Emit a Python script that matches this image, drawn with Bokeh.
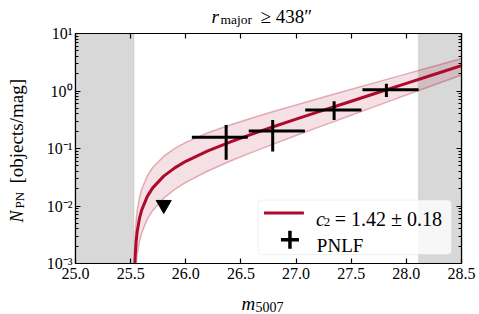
import numpy as np
from bokeh.plotting import figure
from bokeh.models import (Range1d, LinearAxis, LogAxis, BoxAnnotation, Label,
                          CustomJSTickFormatter, FixedTicker, ColumnDataSource)
from bokeh.core.properties import value
from bokeh.embed import file_html
from bokeh.resources import INLINE

# ---------------- data ----------------
model_m = [25.535, 25.54, 25.55, 25.56, 25.58, 25.60, 25.65, 25.70, 25.80, 25.90, 26.00,
           26.20, 26.40, 26.60, 26.80, 27.00, 27.25, 27.50, 27.75, 28.00, 28.25, 28.50]
model_n = [0.00061, 0.00122, 0.00243, 0.00365, 0.00608, 0.0085, 0.01456, 0.02066, 0.0331,
           0.0461, 0.0599, 0.0911, 0.1295, 0.1783, 0.2413, 0.3238, 0.4648, 0.6647, 0.9496,
           1.3557, 1.9336, 2.7577]
band_hi = [0.00142, 0.00285, 0.00566, 0.00849, 0.01408, 0.01962, 0.03328, 0.04677, 0.07355,
           0.1005, 0.1281, 0.1876, 0.2567, 0.3402, 0.4433, 0.5728, 0.7841, 1.0688, 1.4567,
           1.9834, 2.6974, 3.6677]
band_lo = [0.00024, 0.00048, 0.000957, 0.00144, 0.00241, 0.00338, 0.00585, 0.00837, 0.01367,
           0.01941, 0.0257, 0.0406, 0.05996, 0.08575, 0.1205, 0.168, 0.2529, 0.3793, 0.5682,
           0.8506, 1.2723, 1.9028]

pnlf_m = [26.366, 26.788, 27.345, 27.819]
pnlf_n = [0.157, 0.202, 0.465, 1.053]
bin_lo = [26.055, 26.571, 27.083, 27.602]
bin_hi = [26.562, 27.080, 27.593, 28.111]
err_lo = [0.064, 0.089, 0.312, 0.788]
err_hi = [0.256, 0.312, 0.664, 1.336]

limit_m = [25.80]
limit_n = [0.0105]

complete_lo = 25.53
complete_hi = 28.11

x_ticks = [25.0, 25.5, 26.0, 26.5, 27.0, 27.5, 28.0, 28.5]
x_tick_labels = ["25.0", "25.5", "26.0", "26.5", "27.0", "27.5", "28.0", "28.5"]
y_ticks = [1e-3, 1e-2, 1e-1, 1e0, 1e1]
y_tick_labels = ["10\u207b\u00b3", "10\u207b\u00b2", "10\u207b\u00b9", "10\u2070", "10\u00b9"]
y_minor = [k * 10.0 ** e for e in range(-3, 1) for k in range(2, 10)]

legend_fit = ["c", "2", "= 1.42 \u00b1 0.18"]
legend_data = "PNLF"

# ---------------- style ----------------
RED = "#ad0a2c"
SERIF = "Liberation Serif"
W, H = 479, 314
FL, FR, FT, FB = 74, 461, 31, 263   # frame in canvas px
X0, X1, Y0, Y1 = 25.0, 28.5, 1e-3, 1e1

def tx(cx):
    return X0 + (cx - FL) / (FR - FL) * (X1 - X0)

def ty(cy):
    l0, l1 = np.log10(Y0), np.log10(Y1)
    return 10 ** (l1 - (cy - FT) / (FB - FT) * (l1 - l0))

p = figure(width=W, height=H, output_backend="svg", toolbar_location=None,
           x_range=Range1d(X0, X1), y_range=Range1d(Y0, Y1), y_axis_type="log",
           min_border_left=FL, min_border_right=W - FR, min_border_top=FT,
           min_border_bottom=H - FB, background_fill_color="white",
           border_fill_color="white")
p.xgrid.grid_line_color = None
p.ygrid.grid_line_color = None
p.outline_line_color = "black"
p.outline_line_width = 1.2

# shaded incompleteness regions
for l, r in [(X0, complete_lo), (complete_hi, X1)]:
    p.add_layout(BoxAnnotation(left=l, right=r, fill_color="#d8d8d8", fill_alpha=1.0,
                               line_color="#b9b9b9", line_width=1.5, level="underlay"))

# model band and curve
p.varea(x=model_m, y1=band_lo, y2=band_hi, fill_color=RED, fill_alpha=0.12)
p.line(model_m, band_lo, line_color=RED, line_alpha=0.3, line_width=1.5)
p.line(model_m, band_hi, line_color=RED, line_alpha=0.3, line_width=1.5)
p.line(model_m, model_n, line_color=RED, line_width=3)

# PNLF error-bar crosses
src = ColumnDataSource(dict(m=pnlf_m, n=pnlf_n, x0=bin_lo, x1=bin_hi, lo=err_lo, hi=err_hi))
p.segment(x0="x0", x1="x1", y0="n", y1="n", source=src, line_color="black", line_width=3)
p.segment(x0="m", x1="m", y0="lo", y1="hi", source=src, line_color="black", line_width=3)

# upper limit
p.scatter(limit_m, limit_n, marker="inverted_triangle", size=15, fill_color="black",
          line_color="black")

# axes
xfmt = CustomJSTickFormatter(args=dict(t=x_ticks, l=x_tick_labels), code="""
let b = 0; for (let i = 0; i < t.length; i++) { if (Math.abs(t[i]-tick) < Math.abs(t[b]-tick)) b = i; }
return l[b];""")
yfmt = CustomJSTickFormatter(args=dict(t=y_ticks, l=y_tick_labels), code="""
let b = 0; for (let i = 0; i < t.length; i++) { if (Math.abs(Math.log10(t[i])-Math.log10(tick)) < Math.abs(Math.log10(t[b])-Math.log10(tick))) b = i; }
return l[b];""")
blank = CustomJSTickFormatter(code="return '';")

def style(ax, minor):
    ax.major_tick_in = 5
    ax.major_tick_out = 0
    ax.minor_tick_in = 3
    ax.minor_tick_out = 0
    ax.major_tick_line_width = 1.2
    ax.minor_tick_line_width = 1
    ax.axis_line_width = 1.2
    ax.major_tick_line_color = "black"
    ax.minor_tick_line_color = "black" if minor else None
    ax.major_label_text_font = SERIF
    ax.major_label_text_font_size = "16px"
    ax.major_label_text_color = "black"

xb = p.xaxis[0]
xb.ticker = FixedTicker(ticks=x_ticks, minor_ticks=[])
xb.formatter = xfmt
xb.major_label_standoff = 4
style(xb, False)

yl = p.yaxis[0]
yl.ticker = FixedTicker(ticks=y_ticks, minor_ticks=y_minor)
yl.formatter = yfmt
yl.major_label_standoff = 3
style(yl, True)

xt = LinearAxis(ticker=FixedTicker(ticks=x_ticks, minor_ticks=[]), formatter=blank,
                major_label_standoff=0)
style(xt, False)
p.add_layout(xt, "above")
yr = LogAxis(ticker=FixedTicker(ticks=y_ticks, minor_ticks=y_minor), formatter=blank,
             major_label_standoff=0)
style(yr, True)
p.add_layout(yr, "right")

# legend (drawn inside the frame)
p.add_layout(BoxAnnotation(left=tx(257), right=tx(451), top=ty(199), bottom=ty(254),
                           fill_color="white", fill_alpha=0.8, line_color="#cccccc",
                           line_width=1, border_radius=4, level="annotation"))
p.line([tx(263), tx(303)], [ty(212), ty(212)], line_color=RED, line_width=3, level="overlay")
p.scatter([tx(289)], [ty(239)], marker="cross", size=18, line_width=3.5,
          line_color="black", level="overlay")
p.text([tx(315)], [ty(218)], text=[legend_fit[0]], text_font=value(SERIF),
       text_font_size="20px", text_font_style="italic", text_baseline="alphabetic",
       level="overlay")
p.text([tx(323)], [ty(221)], text=[legend_fit[1]], text_font=value(SERIF),
       text_font_size="13px", text_baseline="alphabetic", level="overlay")
p.text([tx(334)], [ty(218)], text=[legend_fit[2]], text_font=value(SERIF),
       text_font_size="20px", text_baseline="alphabetic", level="overlay")
p.text([tx(316)], [ty(245)], text=[legend_data], text_font=value(SERIF),
       text_font_size="19px", text_baseline="alphabetic", level="overlay")

# composed texts (title, axis labels) in canvas pixels; each is hosted by the side
# panel where it costs the least room, so the frame keeps its place
def lab(side, cx, cy, text, size, style_="normal", angle=0.0):
    p.add_layout(Label(x=cx, y=cy, x_units="canvas", y_units="canvas", text=text,
                       text_font=SERIF, text_font_size=size, text_font_style=style_,
                       angle=angle, text_align="left", text_baseline="alphabetic",
                       text_color="black"), side)

# title: r_major >= 438''
lab("left", 211, 16, "r", "19px", "italic")
lab("below", 220, 19, "major", "13.5px")
lab("above", 260, 16, "\u2265 438\u2033", "19px")

# x label: m_5007
lab("right", 241, 303, "m", "19px", "italic")
lab("below", 255, 306, "5007", "14px")

# y label: N_PN [objects/mag]
lab("above", 16, 222, "N", "18px", "italic", np.pi / 2)
lab("left", 19, 208, "PN", "13px", "normal", np.pi / 2)
lab("left", 16, 183, "[objects/mag]", "19px", "normal", np.pi / 2)

open("out.html", "w").write(file_html(p, INLINE))
